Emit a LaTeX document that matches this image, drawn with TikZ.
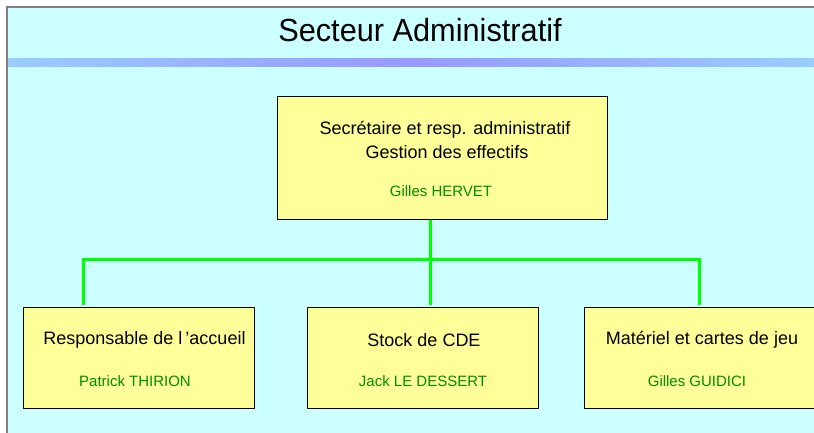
\documentclass[tikz,border=0pt]{standalone}
\usepackage{fontspec}
\setmainfont{Liberation Sans}
\definecolor{bgcyan}{RGB}{204,255,255}
\definecolor{boxyellow}{RGB}{255,255,153}
\definecolor{nametext}{RGB}{0,140,0}
\definecolor{linkgreen}{RGB}{0,255,0}
\definecolor{bandside}{RGB}{153,204,255}
\definecolor{bandmid}{RGB}{153,153,255}
\tikzset{
  orgbox/.style={draw=black, line width=0.8pt, fill=boxyellow, inner sep=0pt, anchor=north west},
  roletext/.style={font=\fontsize{18}{21}\selectfont, text=black, inner sep=0pt},
  nametxt/.style={font=\fontsize{15}{18}\selectfont, text=nametext, inner sep=0pt},
  conn/.style={draw=linkgreen, line width=3pt}
}
\begin{document}
\begin{tikzpicture}[x=1pt,y=-1pt]
\useasboundingbox (0,0) rectangle (814,433);
\clip (0,0) rectangle (814,433);
\fill[white] (0,0) rectangle (814,433);
\fill[bgcyan] (7,7) rectangle (814,433);
\draw[gray, line width=1.5pt] (7,434) -- (7,7) -- (815,7);
% band
\shade[left color=bandside, right color=bandside, middle color=bandmid] (8,59) rectangle (814,67);
% title
\node[font=\fontsize{32}{36}\selectfont, inner sep=0pt, xscale=0.96] (title) at (420,30) {Secteur Administratif};
% boxes
\node[orgbox, minimum width=330pt, minimum height=123pt] (top) at (277,96) {};
\node[orgbox, minimum width=231pt, minimum height=101pt] (b1) at (23,307) {};
\node[orgbox, minimum width=231pt, minimum height=101pt] (b2) at (307,307) {};
\node[orgbox, minimum width=240pt, minimum height=101pt] (b3) at (584,307) {};
% texts
\node[roletext] (t1) at (445,130) {Secrétaire et resp. administratif};
\node[roletext] (t2) at (447,152) {Gestion des effectifs};
\node[nametxt] (n0) at (441,191) {Gilles HERVET};
\node[roletext] (r1) at (144.5,340) {Responsable de l\,’accueil};
\node[nametxt] (n1) at (135,381) {Patrick THIRION};
\node[roletext] (r2) at (424,340) {Stock de CDE};
\node[nametxt] (n2) at (423,381) {Jack LE DESSERT};
\node[roletext] (r3) at (702,340) {Matériel et cartes de jeu};
\node[nametxt] (n3) at (697,381) {Gilles GUIDICI};
% connectors
\coordinate (hub) at (430,259);
\coordinate (jl) at (83,259);
\coordinate (jr) at (699,259);
\coordinate (el) at (83,305);
\coordinate (em) at (430,305);
\coordinate (er) at (699,305);
\draw[conn] (top.south -| hub) -- (hub);
\draw[conn] (el) -- (jl) -- (jr) -- (er);
\draw[conn] (hub) -- (em);
\end{tikzpicture}
\end{document}
